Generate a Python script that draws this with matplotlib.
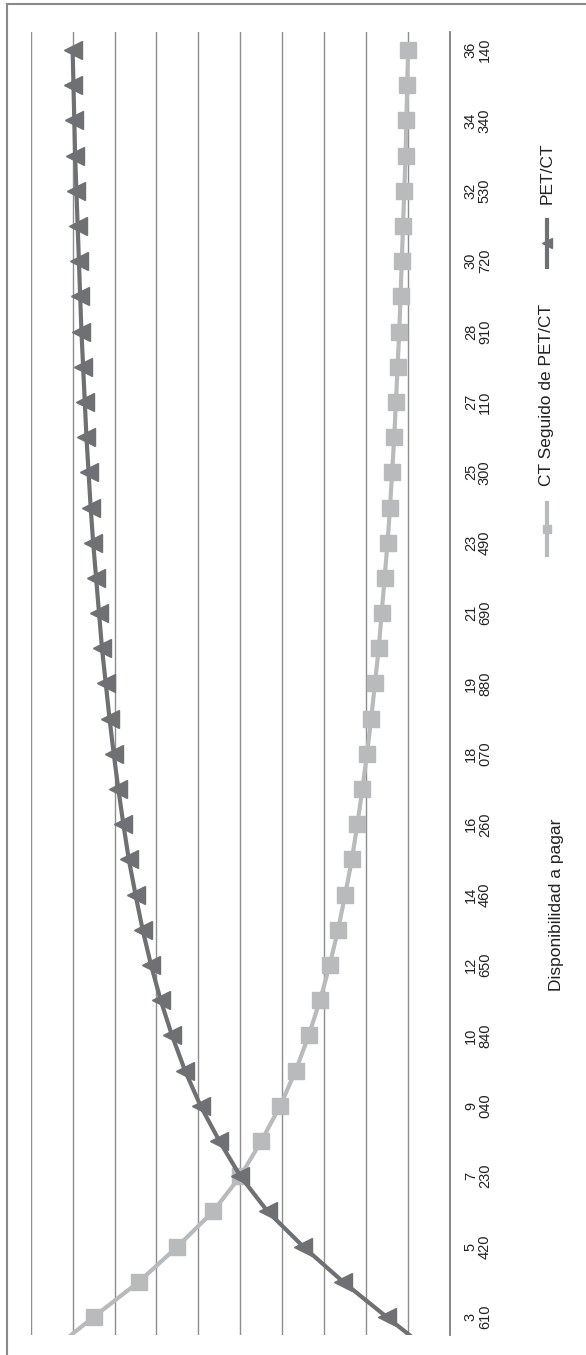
import matplotlib
matplotlib.use('Agg')
import matplotlib.pyplot as plt
from matplotlib.lines import Line2D
import numpy as np

plt.rcParams['font.family'] = ['Liberation Sans', 'DejaVu Sans']

# Willingness to pay categories (first one lies just outside the plotted range)
categories = [2710, 3610, 4515, 5420, 6325, 7230, 8135, 9040, 9940, 10840,
              11745, 12650, 13555, 14460, 15360, 16260, 17165, 18070, 18975,
              19880, 20785, 21690, 22590, 23490, 24395, 25300, 26205, 27110,
              28010, 28910, 29815, 30720, 31625, 32530, 33435, 34340, 35240,
              36140]

pet_ct = [0.045, 0.151, 0.255, 0.350, 0.435, 0.500, 0.550, 0.595, 0.632,
          0.663, 0.690, 0.713, 0.733, 0.750, 0.766, 0.779, 0.791, 0.802,
          0.812, 0.821, 0.830, 0.837, 0.844, 0.851, 0.857, 0.862, 0.867,
          0.871, 0.875, 0.879, 0.882, 0.885, 0.888, 0.891, 0.894, 0.896,
          0.898, 0.900]

ct_seguido = [0.955, 0.850, 0.742, 0.650, 0.565, 0.500, 0.450, 0.405, 0.368,
              0.337, 0.310, 0.287, 0.267, 0.250, 0.234, 0.221, 0.209, 0.198,
              0.188, 0.179, 0.170, 0.163, 0.156, 0.149, 0.143, 0.138, 0.133,
              0.129, 0.125, 0.121, 0.118, 0.115, 0.112, 0.109, 0.106, 0.104,
              0.102, 0.100]

series_names = ["CT Seguido de PET/CT", "PET/CT"]
xlabel_text = "Disponibilidad a pagar"

W, H = 586, 1355
fig = plt.figure(figsize=(W / 100, H / 100), dpi=100)
fig.patch.set_facecolor('white')

def fx(px):
    return px / W

def fy(py):
    return 1 - py / H

left, right = 30.7, 450.0
top, bottom = 32.4, 1334.6
ax = fig.add_axes([fx(left), fy(bottom), fx(right) - fx(left), fy(top) - fy(bottom)])

c_pet = '#6f7073'
c_ct = '#b9babc'
c_grid = '#8e8e8e'

idx = np.arange(len(categories))

ax.plot(ct_seguido, idx, color=c_ct, lw=3.0, marker='s', ms=12,
        markerfacecolor=c_ct, markeredgecolor=c_ct, zorder=3)
ax.plot(pet_ct, idx, color=c_pet, lw=3.0, marker='<', ms=13,
        markerfacecolor=c_pet, markeredgecolor=c_pet, zorder=4)

ax.set_xlim(1.0, 0.0)
ax.set_ylim(0.5, len(categories) - 0.5)

ax.set_xticks(np.round(np.arange(0.0, 1.01, 0.1), 2))
ax.tick_params(axis='x', length=0, labelbottom=False, labeltop=False)
ax.grid(axis='x', color=c_grid, lw=1.0)
ax.set_axisbelow(True)

for s in ['top', 'bottom', 'left']:
    ax.spines[s].set_visible(False)
ax.spines['right'].set_color('#7f7f7f')
ax.spines['right'].set_linewidth(1.3)

ax.yaxis.tick_right()
tick_idx = idx[1::2]
tick_lbls = [f"{categories[i] // 1000}\n{categories[i] % 1000:03d}" for i in tick_idx]
ax.set_yticks(tick_idx)
ax.set_yticklabels(tick_lbls)
ax.tick_params(axis='y', length=0, pad=10, labelsize=10.5, labelcolor='#222222')
for lbl in ax.get_yticklabels():
    lbl.set_rotation(90)
    lbl.set_va('center')
    lbl.set_ha('left')
    lbl.set_multialignment('center')
    lbl.set_linespacing(1.0)

# legend (drawn rotated, as in the reference)
tf = fig.transFigure
# CT Seguido de PET/CT
fig.add_artist(Line2D([fx(547), fx(547)], [fy(555), fy(503)], transform=tf,
                      color=c_ct, lw=3.0))
fig.add_artist(Line2D([fx(547)], [fy(529)], transform=tf, color=c_ct,
                      marker='s', ms=6, markerfacecolor=c_ct, markeredgecolor=c_ct))
fig.text(fx(547), fy(395), series_names[0], rotation=90, ha='center', va='center',
         fontsize=12.5, color='#222222')
# PET/CT
fig.add_artist(Line2D([fx(547), fx(547)], [fy(267), fy(220)], transform=tf,
                      color=c_pet, lw=3.0))
fig.add_artist(Line2D([fx(547)], [fy(243)], transform=tf, color=c_pet,
                      marker='<', ms=7, markerfacecolor=c_pet, markeredgecolor=c_pet))
fig.text(fx(547), fy(173), series_names[1], rotation=90, ha='center', va='center',
         fontsize=12.5, color='#222222')

# axis title
fig.text(fx(556), fy(905), xlabel_text, rotation=90, ha='center', va='center',
         fontsize=12.5, color='#222222')

# outer frame (cropped at right and bottom)
fig.add_artist(Line2D([fx(7.3), fx(7.3)], [fy(4), fy(H + 5)], transform=tf,
                      color='#8a8a8a', lw=1.5))
fig.add_artist(Line2D([fx(7.3), fx(W + 5)], [fy(4), fy(4)], transform=tf,
                      color='#8a8a8a', lw=1.5))

fig.savefig('out.png', dpi=100, facecolor='white')
